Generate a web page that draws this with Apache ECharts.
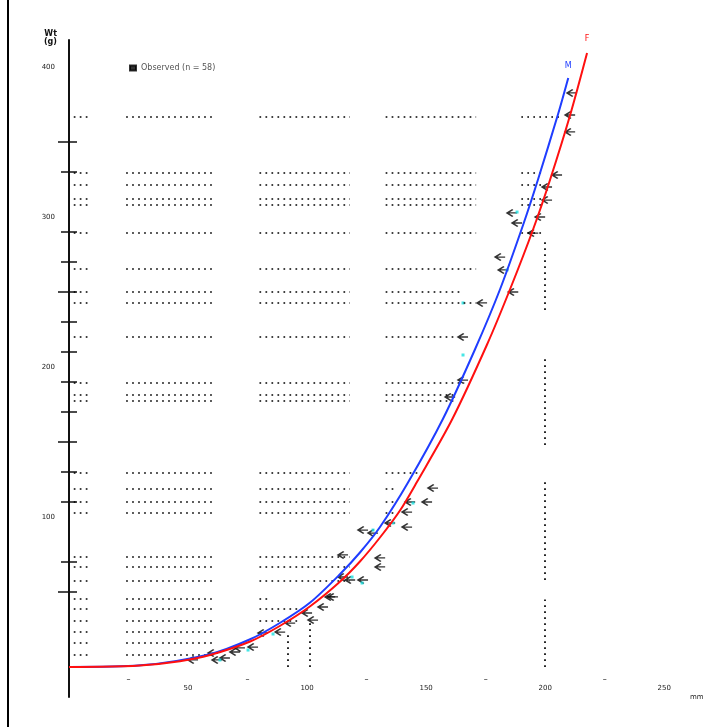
<!DOCTYPE html>
<html>
<head>
<meta charset="utf-8">
<script src="https://cdn.jsdelivr.net/npm/echarts@6/dist/echarts.min.js"></script>
<style>
  html, body { margin: 0; padding: 0; background: #fff; }
  #frame { position: absolute; left: 7px; top: 0; width: 711px; height: 727px; border-left: 2px solid #000; box-sizing: border-box; }
  #chart { position: absolute; left: 0; top: 0; width: 718px; height: 727px; }
</style>
</head>
<body>
<div id="frame"></div>
<div id="chart"></div>
<script>
// ---- data (length in mm, weight in g) ----
const obsLength = [52.1, 60.5, 62.2, 65.5, 69.7, 71.8, 77.3, 81.5, 88.7, 92.9, 100, 102.5, 106.7, 109.7, 110.9,
  115.1, 118.1, 123.5, 115.1, 130.7, 130.7, 123.5, 127.7, 134.9, 142, 142, 143.3, 150.4, 152.9,
  160.1, 165.5, 165.5, 173.5, 181.1, 182.4, 186.6, 186.1, 188.2, 195, 197.9, 200.8, 200.8, 205, 210.5, 210.5, 211.3];
const obsWeight = [4.7, 9.3, 4.7, 6, 10, 12.7, 13.3, 22.7, 23.3, 29.3, 36, 31.3, 40, 46.7, 46.7,
  60, 58, 58, 74.7, 72.7, 66.7, 91.3, 89.3, 96, 93.3, 103.3, 110, 110, 119.3,
  180, 191.3, 220, 242.7, 273.3, 264.7, 250, 302.7, 296, 289.3, 300, 311.3, 320, 328, 356.7, 368, 382.7];
const obs2Length = [63.4, 75.2, 85.7, 118.9, 123.1, 127.7, 136.1, 144.5, 165.5, 165.5, 184, 188.2];
const obs2Weight = [4.7, 11.3, 22, 60, 56, 91.3, 96, 109.3, 208, 242.7, 264.7, 303.3];

const fitMLength = [0, 30, 59.2, 76.1, 88.7, 101.3, 113.9, 122.3, 130.7, 142.4, 157.1, 170.6, 181.1, 190.8, 197.1, 205.5, 209.7];
const fitMWeight = [0, 1.1, 8.6, 18.5, 29.5, 43, 62, 76.5, 93.5, 123, 165.5, 212, 252, 295, 325.5, 369, 392.7];
const fitFLength = [0, 13, 29.8, 46.6, 59.2, 76.1, 88.7, 101.3, 113.9, 122.3, 130.7, 139.1, 146.2, 160.9, 175.6, 185.3, 195, 202.1, 210.5, 217.6];
const fitFWeight = [0, 0.1, 1, 3.9, 8, 17, 27.5, 40.5, 57, 70.5, 86.5, 104.5, 123.5, 165, 215, 252, 292, 325, 368, 409.3];

// dotted guide rows (weight values) and where each stops (length values)
const guideRowWeight = [366.7, 329.3, 321.3, 312, 308, 289.3, 265.3, 250, 242.7, 220, 189.3, 181.3, 177.3,
  129.3, 118.7, 110, 102.7, 73.3, 66.7, 57.3, 45.3, 38.7, 30.7, 23.3, 16, 8];
const guideRowEnd = [206, 200, 200, 200, 200, 200, 171, 165, 171, 162, 166, 162, 162,
  148, 138, 138, 138, 122, 122, 122, 85, 96, 96, 62, 62, 62];
// vertical guides: length, weight from, weight to
const guideColLength = [200, 200, 200, 200, 92, 101];
const guideColFrom = [238, 148, 58, 0, 0, 0];
const guideColTo = [285, 208, 125, 45, 23, 30];

const xTickLabels = [50, 100, 150, 200, 250];
const xMinorMarks = [25, 75, 125, 175, 225];
const yTickLabels = [100, 200, 300, 400];
const yMinorTicks = [50, 70, 110, 130, 150, 170, 190, 210, 230, 250, 270, 290, 330, 350];
const yMajorTicks = [50, 150, 250, 350];

// ---- build ----
const windows = [[2, 9], [24, 61], [80, 118], [133, 171], [190, 260]];
const guideLines = [];
guideRowWeight.forEach((w, i) => {
  const end = guideRowEnd[i];
  windows.forEach(([a, b]) => {
    const e = Math.min(b, end);
    if (e > a + 0.5) guideLines.push([{ coord: [a, w] }, { coord: [e, w] }]);
  });
});
guideColLength.forEach((x, i) => {
  guideLines.push([{ coord: [x, guideColFrom[i]] }, { coord: [x, guideColTo[i]] }]);
});

const zip = (a, b) => a.map((v, i) => [v, b[i]]);
const dotted = { color: '#000', width: 1.7, type: [1.7, 4.3] };
const font = 'DejaVu Sans';
const hiddenAxisBase = { type: 'value', min: 0, max: 260, position: 'bottom', axisLine: { show: false, onZero: false }, axisTick: { show: false }, splitLine: { show: false } };

const chart = echarts.init(document.getElementById('chart'));
chart.setOption({
  animation: false,
  backgroundColor: 'transparent',
  grid: { left: 69, right: 30, top: 40, bottom: 30, outerBoundsMode: 'none', containLabel: false },
  legend: {
    left: 124, top: 59, icon: 'rect', itemWidth: 6, itemHeight: 5, itemGap: 6,
    textStyle: { fontSize: 8, color: '#555', fontFamily: font },
    data: [{ name: 'Observed (n = 58)', itemStyle: { color: '#000' } }]
  },
  xAxis: [Object.assign({}, hiddenAxisBase, {
    axisLabel: { customValues: xTickLabels, margin: -12, fontSize: 7, color: '#222', fontFamily: font },
    name: 'mm', nameLocation: 'end', nameGap: 2,
    nameTextStyle: { fontSize: 7, color: '#222', fontFamily: font, padding: [0, 0, 20, 0] }
  }), Object.assign({}, hiddenAxisBase, {
    axisLabel: { customValues: xMinorMarks, margin: -21, fontSize: 8, color: '#222', fontFamily: font, formatter: () => '–' }
  })],
  yAxis: [{
    type: 'value', min: -20, max: 418, position: 'left',
    axisLine: { show: true, onZero: false, lineStyle: { color: '#111', width: 2 } },
    axisTick: { show: true, customValues: yMinorTicks, length: 8, lineStyle: { color: '#111', width: 1.5 } },
    axisLabel: { customValues: yTickLabels, margin: 14, fontSize: 7, color: '#222', fontFamily: font },
    splitLine: { show: false },
    name: 'Wt\n(g)', nameLocation: 'end', nameGap: -10,
    nameTextStyle: { fontSize: 8, color: '#111', fontFamily: font, align: 'right', padding: [0, 12, 4, 0], fontWeight: 'bold' }
  }, {
    type: 'value', min: -20, max: 418, position: 'left', offset: 0,
    axisLine: { show: false }, splitLine: { show: false }, axisLabel: { show: false },
    axisTick: { show: true, inside: true, customValues: yMinorTicks, length: 8, lineStyle: { color: '#111', width: 1.5 } }
  }, {
    type: 'value', min: -20, max: 418, position: 'left', offset: 0,
    axisLine: { show: false }, splitLine: { show: false }, axisLabel: { show: false },
    axisTick: { show: true, customValues: yMajorTicks, length: 11, lineStyle: { color: '#111', width: 1.5 } }
  }],
  series: [{
    type: 'scatter', name: 'guides', data: [[0, 0]], symbolSize: 0, silent: true, z: 1,
    markLine: { silent: true, symbol: 'none', label: { show: false }, lineStyle: dotted, data: guideLines, animation: false }
  }, {
    type: 'scatter', name: 'Observed (n = 58)', data: zip(obsLength, obsWeight), z: 3,
    symbol: 'path://M10,1 L2,6 L10,11 M2,6 L16,6', symbolSize: [10, 7],
    itemStyle: { color: 'transparent', borderColor: '#000', borderWidth: 1.6 }
  }, {
    type: 'scatter', name: 'other', data: zip(obs2Length, obs2Weight), z: 4,
    symbol: 'rect', symbolSize: 3, itemStyle: { color: '#19e0e0' }
  }, {
    type: 'line', name: 'M', data: zip(fitMLength, fitMWeight), smooth: 0.3, showSymbol: false, z: 5,
    lineStyle: { color: '#1f3dff', width: 2 }, itemStyle: { color: '#1f3dff' },
    markPoint: {
      symbol: 'circle', symbolSize: 0, silent: true,
      data: [{ coord: [fitMLength[fitMLength.length - 1], fitMWeight[fitMWeight.length - 1]] }],
      label: { show: true, position: 'top', distance: 8, formatter: 'M', color: '#1f3dff', fontSize: 8, fontFamily: font }
    }
  }, {
    type: 'line', name: 'F', data: zip(fitFLength, fitFWeight), smooth: 0.3, showSymbol: false, z: 6,
    lineStyle: { color: '#ff1010', width: 2 }, itemStyle: { color: '#ff1010' },
    markPoint: {
      symbol: 'circle', symbolSize: 0, silent: true,
      data: [{ coord: [fitFLength[fitFLength.length - 1], fitFWeight[fitFWeight.length - 1]] }],
      label: { show: true, position: 'top', distance: 10, formatter: 'F', color: '#ff1010', fontSize: 8, fontFamily: font }
    }
  }]
});
</script>
</body>
</html>
